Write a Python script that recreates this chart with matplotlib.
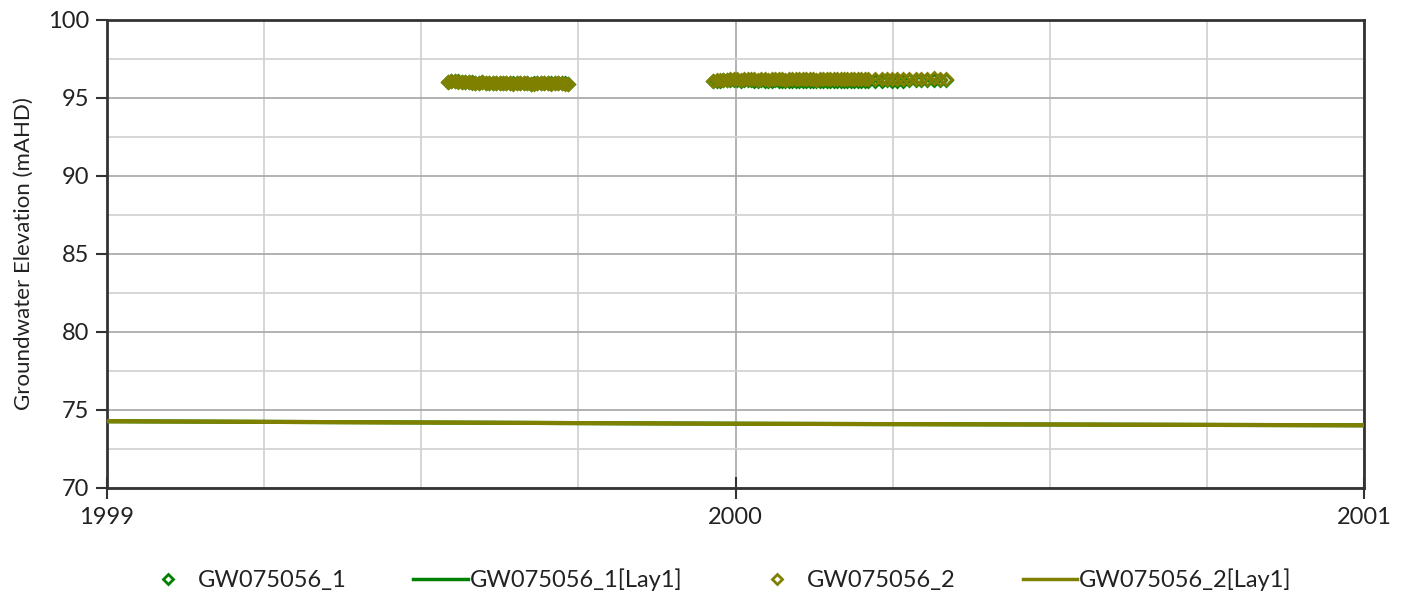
import numpy as np
import matplotlib
matplotlib.use("Agg")
import matplotlib.pyplot as plt
from matplotlib.ticker import MultipleLocator, FixedLocator, FixedFormatter
from matplotlib.lines import Line2D

plt.rcParams['font.family'] = ['Lato', 'DejaVu Sans']

# Observation times, days counted from 1 Jan 1999
obs_days_a = [198, 200, 202, 204, 206, 208, 210, 212, 214, 216, 218, 220, 222,
              224, 226, 228, 230, 232, 234, 236, 238, 240, 242, 244, 246, 248,
              250, 252, 254, 256, 258, 260, 262, 264, 266, 268]
obs_days_b = [352, 354, 356, 358, 360, 362, 364, 366, 368, 370, 372, 374,
              376, 378, 380, 382, 384, 386, 388, 390, 392, 394, 396, 398, 400,
              402, 404, 406, 408, 410, 412, 414, 416, 418, 420, 422, 424, 426,
              428, 430, 432, 434, 436, 438, 440, 442, 446, 450, 453, 456, 459,
              462, 466, 470, 473, 476, 480, 484, 487]

# Measured groundwater levels (mAHD), bore GW075056_1
gw1_a = [96.05, 96.08, 96.10, 96.07, 96.04, 96.02, 96.03, 96.00, 95.98, 95.99,
         96.01, 95.97, 95.96, 95.98, 95.95, 95.94, 95.96, 95.98, 95.95, 95.93,
         95.94, 95.96, 95.97, 95.94, 95.92, 95.93, 95.95, 95.97, 95.96, 95.94,
         95.93, 95.95, 95.97, 95.95, 95.93, 95.92]
gw1_b = [96.08, 96.10, 96.12, 96.14, 96.13, 96.15, 96.16, 96.14, 96.12,
         96.13, 96.15, 96.14, 96.12, 96.11, 96.13, 96.12, 96.10, 96.11, 96.13,
         96.12, 96.10, 96.09, 96.11, 96.12, 96.10, 96.09, 96.10, 96.12, 96.11,
         96.09, 96.08, 96.10, 96.11, 96.09, 96.08, 96.10, 96.11, 96.12, 96.10,
         96.09, 96.11, 96.12, 96.10, 96.09, 96.11, 96.12, 96.10, 96.11, 96.13,
         96.12, 96.10, 96.12, 96.14, 96.15, 96.13, 96.14, 96.16, 96.15, 96.14]

# Measured groundwater levels (mAHD), bore GW075056_2
gw2_a = [96.02, 96.06, 96.08, 96.05, 96.02, 96.00, 96.01, 95.98, 95.97, 95.98,
         96.00, 95.96, 95.95, 95.97, 95.94, 95.93, 95.95, 95.97, 95.94, 95.92,
         95.93, 95.95, 95.96, 95.93, 95.91, 95.92, 95.94, 95.96, 95.95, 95.93,
         95.92, 95.94, 95.96, 95.94, 95.92, 95.91]
gw2_b = [96.11, 96.14, 96.16, 96.18, 96.17, 96.19, 96.20, 96.19, 96.18,
         96.19, 96.21, 96.20, 96.19, 96.18, 96.20, 96.19, 96.18, 96.19, 96.21,
         96.20, 96.19, 96.18, 96.20, 96.21, 96.20, 96.19, 96.20, 96.21, 96.20,
         96.19, 96.18, 96.20, 96.21, 96.20, 96.19, 96.20, 96.21, 96.22, 96.21,
         96.20, 96.21, 96.22, 96.21, 96.20, 96.21, 96.22, 96.21, 96.22, 96.23,
         96.22, 96.21, 96.22, 96.24, 96.25, 96.23, 96.24, 96.26, 96.25, 96.24]

# Simulated layer-1 heads (mAHD)
model_years = [1999.0, 1999.5, 2000.0, 2000.5, 2001.0]
lay1_gw1 = [74.28, 74.20, 74.12, 74.07, 74.02]
lay1_gw2 = [74.28, 74.20, 74.12, 74.07, 74.02]

x_ticks = [1999, 2000, 2001]
x_tick_labels = ["1999", "2000", "2001"]

GREEN = "#008000"
OLIVE = "#808000"
TEXT = "#222222"

obs_days = obs_days_a + obs_days_b
obs_years = 1999 + np.array(obs_days) / 365.0
gw1 = gw1_a + gw1_b
gw2 = gw2_a + gw2_b

fig = plt.figure(figsize=(14.1, 5.96), dpi=100)
ax = fig.add_axes([107 / 1410, 1 - 488 / 596, (1364 - 107) / 1410, (488 - 20) / 596])

ax.plot(model_years, lay1_gw1, color=GREEN, lw=3, zorder=3)
ax.plot(model_years, lay1_gw2, color=OLIVE, lw=3, zorder=3)
ax.plot(obs_years, gw1, ls="none", marker="D", ms=6.5, mfc="none",
        mec=GREEN, mew=2, zorder=4)
ax.plot(obs_years, gw2, ls="none", marker="D", ms=6.5, mfc="none",
        mec=OLIVE, mew=2, zorder=5)

ax.set_xlim(1999, 2001)
ax.set_ylim(70, 100)
ax.xaxis.set_major_locator(FixedLocator(x_ticks))
ax.xaxis.set_major_formatter(FixedFormatter(x_tick_labels))
ax.xaxis.set_minor_locator(MultipleLocator(0.25))
ax.yaxis.set_major_locator(MultipleLocator(5))
ax.yaxis.set_minor_locator(MultipleLocator(2.5))

ax.grid(which="major", axis="y", color="#a6a6a6", lw=1.2)
ax.grid(which="minor", axis="y", color="#d0d0d0", lw=1.2)
ax.grid(which="major", axis="x", color="#a6a6a6", lw=1.2)
ax.grid(which="minor", axis="x", color="#d0d0d0", lw=1.2)
ax.set_axisbelow(True)

for s in ax.spines.values():
    s.set_color("#333333")
    s.set_linewidth(2)

ax.tick_params(axis="y", which="major", direction="out", length=8, width=1.5,
               color="#333333", labelsize=17, pad=5, labelcolor=TEXT)
ax.tick_params(axis="x", which="major", direction="inout", length=16, width=1.5,
               color="#333333", labelsize=17, pad=6, labelcolor=TEXT)
ax.tick_params(which="minor", length=0)

ax.set_ylabel("Groundwater Elevation (mAHD)", fontsize=16, color=TEXT, labelpad=10)

handles = [
    Line2D([], [], ls="none", marker="D", ms=5.5, mfc="none", mec=GREEN, mew=2),
    Line2D([], [], color=GREEN, lw=2.5),
    Line2D([], [], ls="none", marker="D", ms=5.5, mfc="none", mec=OLIVE, mew=2),
    Line2D([], [], color=OLIVE, lw=2.5),
]
labels = ["GW075056_1", "GW075056_1[Lay1]", "GW075056_2", "GW075056_2[Lay1]"]
fig.legend(handles, labels, loc="center", bbox_to_anchor=(0.508, 1 - 580 / 596),
           ncol=4, frameon=False, fontsize=17, handlelength=2.3,
           handletextpad=0.1, columnspacing=2.85, labelcolor=TEXT)

fig.savefig("out.png", dpi=100)
